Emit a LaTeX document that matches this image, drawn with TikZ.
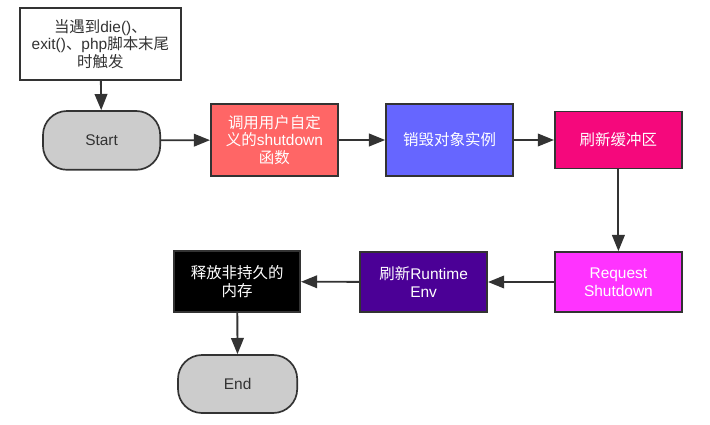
\documentclass[tikz,border=0pt]{standalone}
\usepackage{fontspec}
\setmainfont{Liberation Sans}
\newfontfamily\cjk{Noto Sans CJK SC}
\usetikzlibrary{arrows.meta}
\definecolor{edgegray}{HTML}{333333}
\definecolor{termgray}{HTML}{CCCCCC}
\definecolor{callred}{HTML}{FF6666}
\definecolor{objblue}{HTML}{6666FF}
\definecolor{flushpink}{HTML}{F5087C}
\definecolor{reqmagenta}{HTML}{FF33FF}
\definecolor{envpurple}{HTML}{4B0096}
\begin{document}
\begin{tikzpicture}[
    box/.style={draw=edgegray, line width=1.2pt, minimum width=3.18cm, align=center,
      font=\fontsize{11}{12.6}\selectfont, text=white},
    term/.style={box, fill=termgray, text=edgegray, rounded corners=0.6cm, minimum height=1.47cm},
    flow/.style={draw=edgegray, line width=1.3pt, -{Triangle[length=11.5pt,width=9pt]}}]

    \useasboundingbox (0,0) rectangle (17.75,-10.625);

    % Trigger and start
    \node (T) at (2.51,-1.1) [box, fill=white, text=edgegray, minimum width=4.03cm, minimum height=1.8cm]
      {{\cjk 当遇到}die(){\cjk 、}\\exit(){\cjk 、}php{\cjk 脚本末尾}\\{\cjk 时触发}};
    \node (S) at (2.54,-3.51) [term, minimum width=2.93cm] {Start};

    % Top row
    \node (U) at (6.86,-3.5)  [box, fill=callred, minimum height=1.8cm]
      {{\cjk 调用用户自定}\\{\cjk 义的}shutdown\\{\cjk 函数}};
    \node (O) at (11.24,-3.5) [box, fill=objblue, minimum height=1.8cm] {{\cjk 销毁对象实例}};
    \node (F) at (15.46,-3.5) [box, fill=flushpink, minimum height=1.43cm] {{\cjk 刷新缓冲区}};

    % Bottom row
    \node (R) at (15.46,-7.05) [box, fill=reqmagenta, minimum height=1.5cm] {Request\\Shutdown};
    \node (E) at (10.59,-7.05) [box, fill=envpurple, minimum height=1.5cm] {{\cjk 刷新}Runtime\\Env};
    \node (M) at (5.93,-7.04)  [box, fill=black, minimum width=3.15cm, minimum height=1.53cm]
      {{\cjk 释放非持久的}\\{\cjk 内存}};
    \node (N) at (5.94,-9.6)   [term, minimum width=2.98cm, minimum height=1.45cm] {End};

    % Connectors
    \draw[flow] (T) -- (S);
    \draw[flow] (S) -- (U);
    \draw[flow] (U) -- (O);
    \draw[flow] (O) -- (F);
    \draw[flow] (F) -- (R);
    \draw[flow] (R) -- (E);
    \draw[flow] (E) -- (M);
    \draw[flow] (M) -- (N);

\end{tikzpicture}
\end{document}
